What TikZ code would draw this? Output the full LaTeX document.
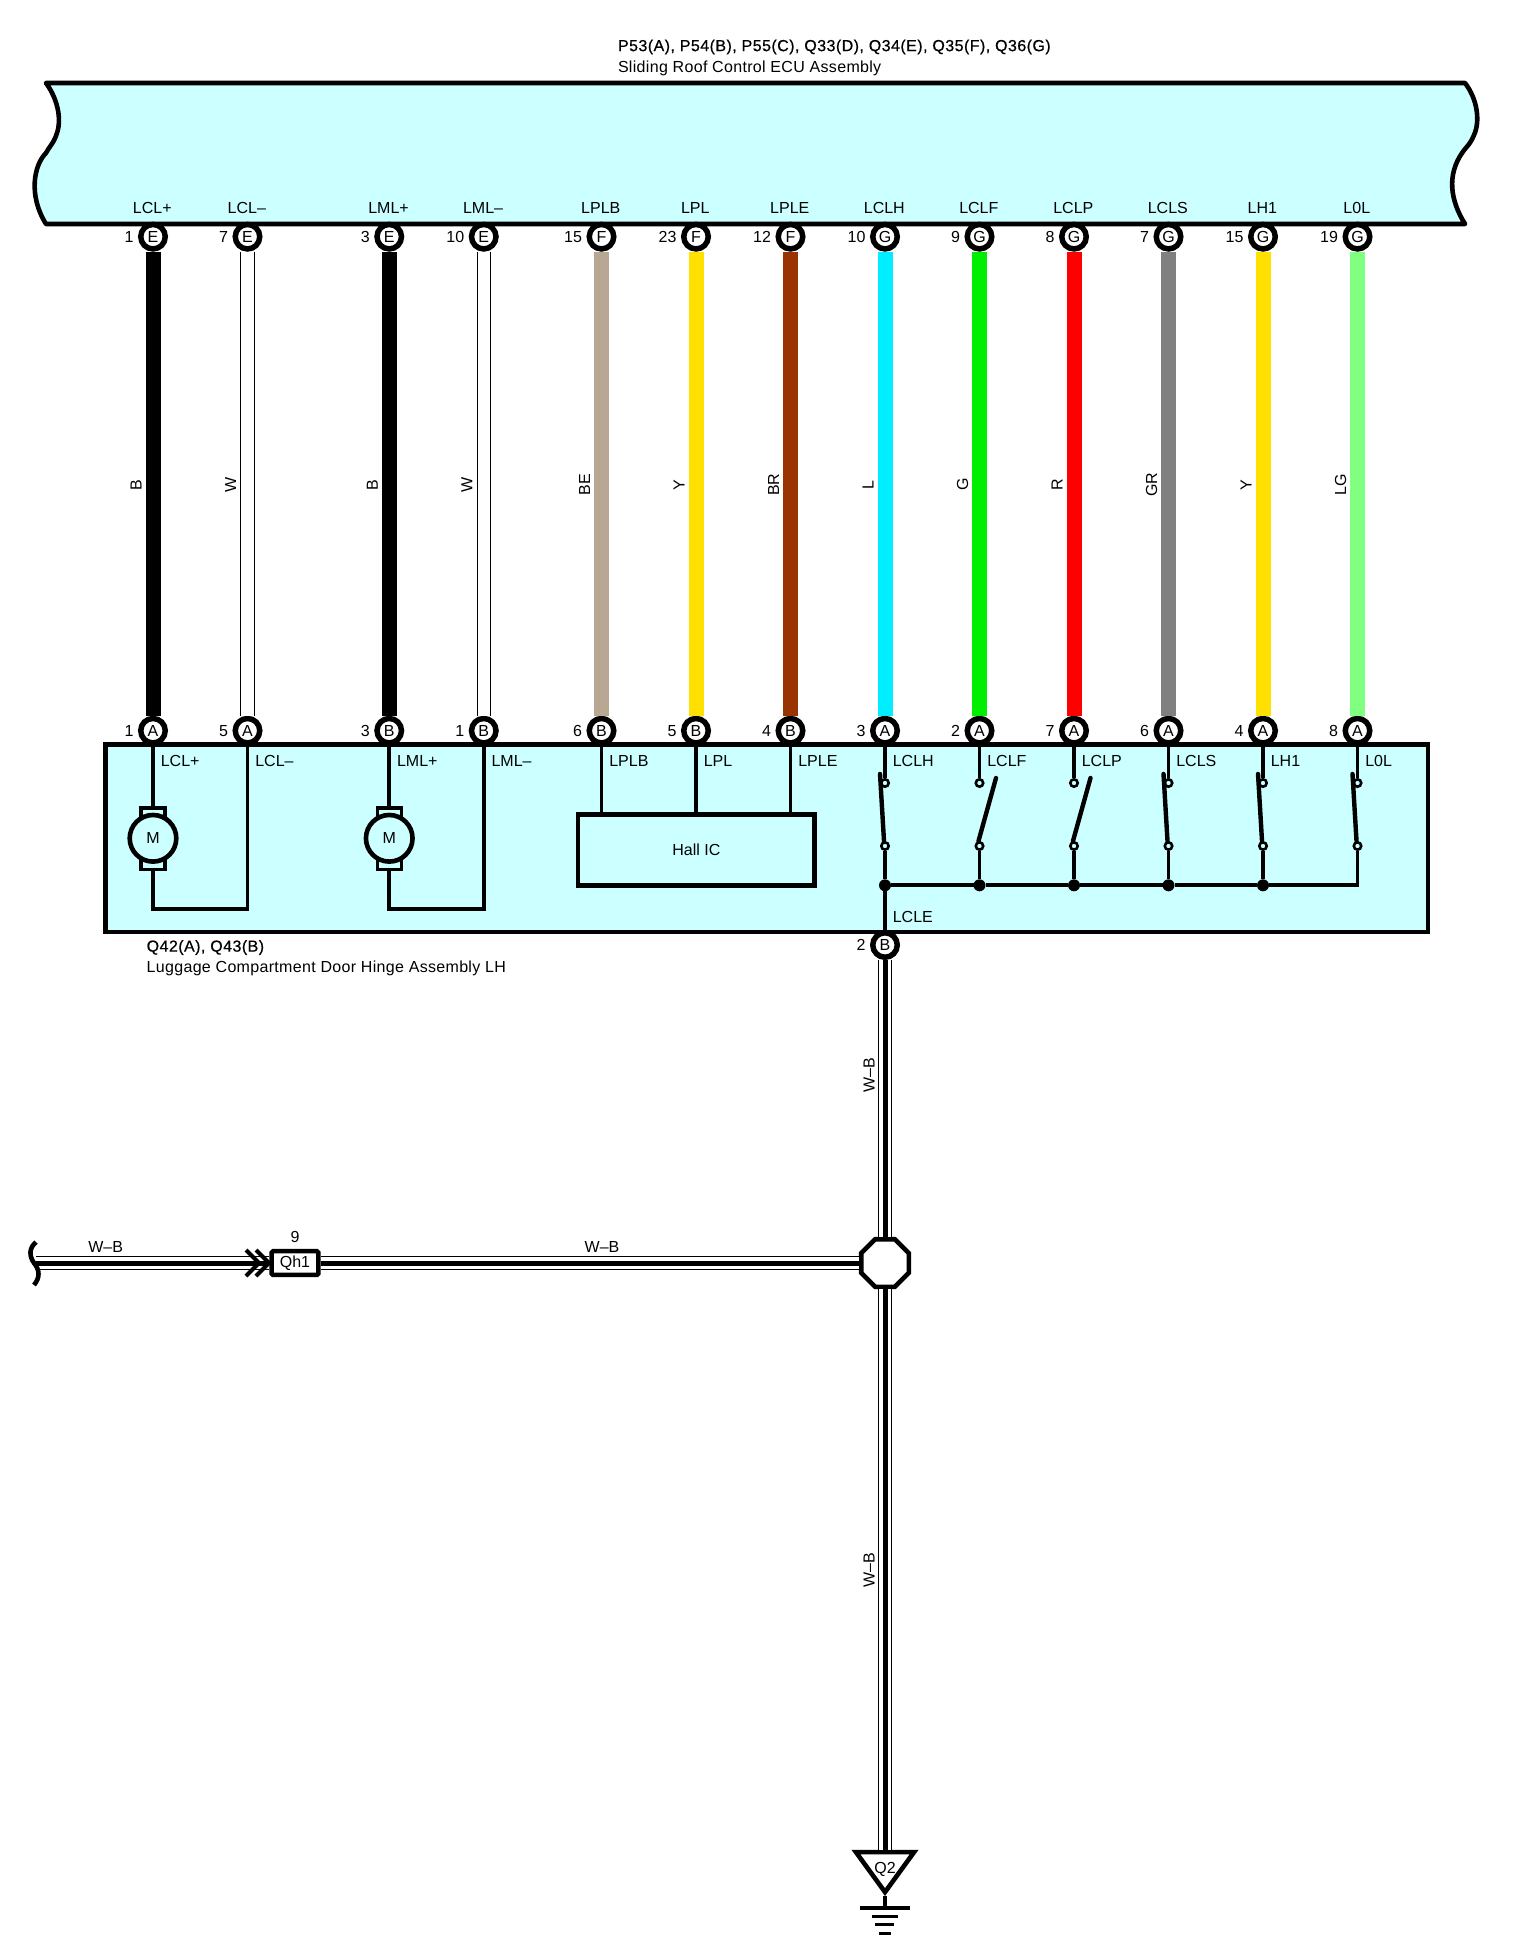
\documentclass[tikz,border=0pt]{standalone}
\usepackage{fontspec}
\setmainfont{Liberation Sans}
\newfontfamily\hdfont[FakeBold=0.5,LetterSpace=2.8]{Liberation Sans}
\newfontfamily\capfont[LetterSpace=2]{Liberation Sans}
\usetikzlibrary{shapes.geometric,calc}
\definecolor{boxcyan}{HTML}{CCFFFF}
\definecolor{cBE}{HTML}{B8A793}
\definecolor{cY}{HTML}{FFE000}
\definecolor{cBR}{HTML}{993300}
\definecolor{cL}{HTML}{00EEFF}
\definecolor{cG}{HTML}{00EE00}
\definecolor{cR}{HTML}{FF0000}
\definecolor{cGR}{HTML}{808080}
\definecolor{cLG}{HTML}{80FF80}
\tikzset{
  txt/.style={font=\fontsize{16}{18}\selectfont, inner sep=0pt, outer sep=0pt},
  pin/.style={circle, draw=black, fill=white, line width=5.5pt, minimum size=24.5pt, inner sep=0pt, font=\fontsize{16}{18}\selectfont},
  boxline/.style={draw=black, line width=4.4pt, fill=boxcyan},
  lead/.style={draw=black, line width=3.7pt},
  thinwire/.style={draw=black, line width=1pt, double=white, double distance=12.5pt},
  corewire/.style={draw=black, line width=5pt},
  tab/.style={rectangle, draw=black, fill=boxcyan, line width=3.5pt, minimum width=24pt, minimum height=12.5pt, inner sep=0pt},
  motor/.style={circle, draw=black, fill=boxcyan, line width=4.6pt, minimum size=46.6pt, inner sep=0pt, font=\fontsize{16}{18}\selectfont},
  contact/.style={circle, draw=black, fill=boxcyan, line width=2.6pt, minimum size=7.4pt, inner sep=0pt},
  joint/.style={circle, fill=black, minimum size=12pt, inner sep=0pt, outer sep=0pt},
  blade/.style={draw=black, line width=4.4pt, line cap=round},
}
\begin{document}
\begin{tikzpicture}[x=1pt,y=-1pt]
\useasboundingbox (0,0) rectangle (1536,1950);
% ECU
\path[boxline, line width=4.6pt, line join=round] (46,83) .. controls (57,98) and (62,118) .. (57,133)
  .. controls (54,143) and (49,147) .. (46,153)
  .. controls (34,165) and (28,195) .. (46,224) -- (1465,224)
  .. controls (1450,200) and (1447,175) .. (1462,153)
  .. controls (1465,148) and (1470,145) .. (1474,135)
  .. controls (1480,122) and (1478,100) .. (1465,83) -- cycle;
\node[txt, anchor=west] (ecuid) at (618,47) {\hdfont P53(A), P54(B), P55(C), Q33(D), Q34(E), Q35(F), Q36(G)};
\node[txt, anchor=west] (ecuname) at (618,68) {\capfont Sliding Roof Control ECU Assembly};
% lower assembly box
\node[boxline, rectangle, minimum width=1322.6pt, minimum height=187.6pt, anchor=north west, inner sep=0pt] (asm) at (103.3,742.3) {};
\node[txt, anchor=west] (asmid) at (146.7,947.5) {\hdfont Q42(A), Q43(B)};
\node[txt, anchor=west] (asmname) at (146.7,968.5) {\capfont Luggage Compartment Door Hinge Assembly LH};
% pins, labels
\foreach \x/\tn/\tl/\sig/\bn/\bl [count=\i] in {
  153/1/E/LCL+/1/A, 247.5/7/E/LCL--/5/A, 389.25/3/E/LML+/3/B, 483.75/10/E/LML--/1/B,
  601.5/15/F/LPLB/6/B, 696/23/F/LPL/5/B, 790.5/12/F/LPLE/4/B, 885/10/G/LCLH/3/A,
  979.5/9/G/LCLF/2/A, 1074/8/G/LCLP/7/A, 1168.5/7/G/LCLS/6/A, 1263/15/G/LH1/4/A, 1357.5/19/G/L0L/8/A}{
  \node[pin] (t\i) at (\x,236.7) {\tl};
  \node[pin] (b\i) at (\x,730.7) {\bl};
  \node[txt] (tn\i) at (\x-0.7,207.5) {\sig};
  \node[txt, anchor=west] (bs\i) at (\x+7.8,761) {\sig};
  \node[txt, anchor=east] (tp\i) at (\x-19.5,236.7) {\tn};
  \node[txt, anchor=east] (bp\i) at (\x-19.5,730.7) {\bn};
}
% harness wires
\foreach \i/\c/\w in {1/black/B,3/black/B,5/cBE/BE,6/cY/Y,7/cBR/BR,8/cL/L,9/cG/G,10/cR/R,11/cGR/GR,12/cY/Y,13/cLG/LG}{
  \draw[draw=\c, line width=15pt] (t\i) -- (b\i);
  \node[txt, rotate=90] (wl\i) at ($(t\i)!0.5!(b\i)+(-17,1)$) {\w};
}
\foreach \i/\w in {2/W,4/W}{
  \draw[thinwire] (t\i) -- (b\i);
  \node[txt, rotate=90] (wl\i) at ($(t\i)!0.5!(b\i)+(-17,1)$) {\w};
}
% motors
\foreach \i/\j/\x in {1/2/153,3/4/389.25}{
  \node[tab] (mt\i) at (\x,814) {};
  \node[tab] (mb\i) at (\x,863.3) {};
  \node[motor] (m\i) at (\x,838.3) {M};
  \coordinate (mc\i) at (b\j |- 0,909);
  \draw[lead] (b\i) -- (mt\i);
  \draw[lead, line join=miter] (mb\i) |- (mc\i) -- (b\j);
}
% Hall IC
\node[draw=black, fill=boxcyan, line width=4.4pt, rectangle, minimum width=236.4pt, minimum height=71pt, anchor=north west, inner sep=0pt, font=\fontsize{16}{18}\selectfont] (hall) at (576,812.3) {Hall IC};
\foreach \i in {5,6,7}{ \draw[lead] (b\i) -- (b\i |- hall.north); }
% switches
\foreach \i in {8,...,13}{
  \node[contact] (c\i) at (b\i |- 0,783) {};
  \node[contact] (d\i) at (b\i |- 0,846) {};
  \draw[lead] (b\i) -- (c\i);
}
\foreach \i in {8,...,12}{
  \node[joint] (j\i) at (b\i |- 0,885.3) {};
  \draw[lead] (d\i) -- (j\i);
}
\coordinate (j13) at (b13 |- 0,885.3);
\draw[lead] (d13) -- (j13);
\draw[lead] (j8) -- (j9) -- (j10) -- (j11) -- (j12) -- ([xshift=1.8pt]j13);
\foreach \i in {8,11,12,13}{
  \draw[blade] ($(c\i)+(-5,-9)$) -- ($(d\i)+(-1,-5)$);
}
\foreach \i in {9,10}{
  \draw[blade] ($(c\i)+(16.5,-5)$) -- ($(d\i)+(-1,-5)$);
}
% ground wire
\node[pin] (b14) at (885,945) {B};
\node[txt, anchor=east] (bp14) at (865.5,945) {2};
\node[txt, anchor=west] (lcle) at (892.8,916.5) {LCLE};
\draw[lead] (j8) -- (b14);
\node[regular polygon, regular polygon sides=8, draw=black, fill=white, line width=4.6pt, minimum size=51.5pt, inner sep=0pt] (oct) at (885,1263) {};
\node[rectangle, draw=black, fill=white, line width=4.6pt, rounded corners=1.5pt, minimum width=46.8pt, minimum height=23.7pt, inner sep=0pt, font=\fontsize{16}{18}\selectfont] (qh) at (295,1263) {Qh1};
\node[txt] (qhn) at (295,1237) {9};
\coordinate (freeend) at (36,1263);
\draw[thinwire] (b14) -- (oct);
\draw[corewire] (b14) -- (oct);
\draw[thinwire] (qh) -- (oct);
\draw[corewire] (qh) -- (oct);
\draw[thinwire] (freeend) -- (qh);
\draw[corewire] (freeend) -- (qh);
\draw[draw=black, line width=4.6pt, fill=none] (36,1242) .. controls (29,1248) and (29,1256) .. (34,1263) .. controls (40,1270) and (40,1278) .. (34,1285);
\draw[draw=black, line width=4pt, miter limit=4] (246,1250) -- (259,1263) -- (246,1276);
\draw[draw=black, line width=4pt, miter limit=4] (256,1250) -- (269,1263) -- (256,1276);
\node[txt] (wbl1) at (105.7,1246.5) {W--B};
\node[txt] (wbl2) at (602,1246.5) {W--B};
\node[txt, rotate=90] (wbl3) at (869,1075) {W--B};
\node[txt, rotate=90] (wbl4) at (869,1570) {W--B};
% ground
\node[isosceles triangle, isosceles triangle apex angle=72, shape border rotate=-90, draw=black, fill=white, line width=4.6pt, minimum height=40pt, inner sep=0pt, anchor=apex] (gnd) at (885,1896) {};
\node[txt] (q2) at (885,1869) {Q2};
\draw[thinwire] (oct) -- (gnd.north);
\draw[corewire] (oct) -- (gnd.north);
\coordinate (g0) at (885,1908);
\draw[draw=black, line width=3.3pt] (gnd.apex) -- (g0);
\draw[draw=black, line width=3.3pt] (860,1908) -- (910,1908);
\draw[draw=black, line width=3pt] (872,1916.5) -- (898,1916.5);
\draw[draw=black, line width=3pt] (875,1924.5) -- (894,1924.5);
\draw[draw=black, line width=3pt] (879,1933) -- (891,1933);
\end{tikzpicture}
\end{document}
